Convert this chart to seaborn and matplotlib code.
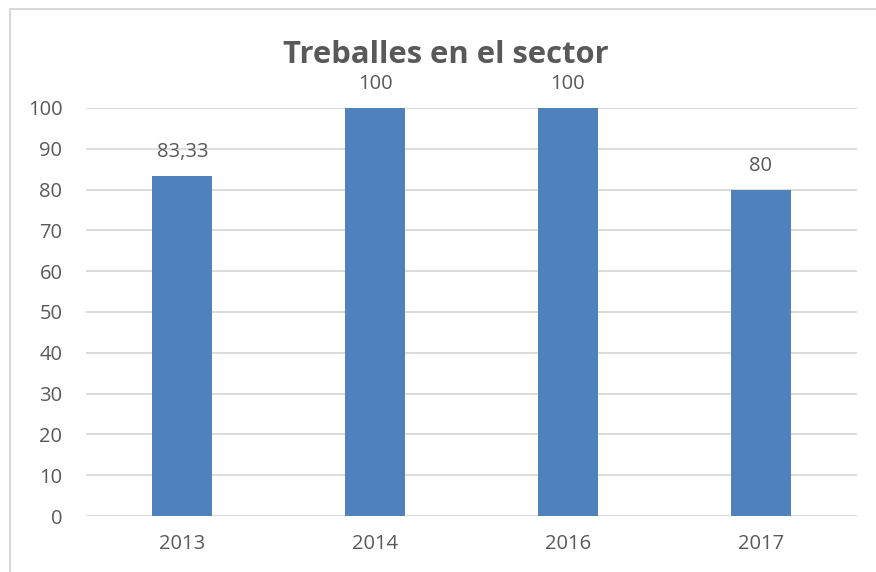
import seaborn as sns
import matplotlib.pyplot as plt
import matplotlib.lines as mlines
import pandas as pd

# Values
years = ["2013", "2014", "2016", "2017"]
values = [83.33, 100, 100, 80]
labels = ["83,33", "100", "100", "80"]

df = pd.DataFrame({"year": years, "value": values})

sns.set_theme(style="white")
plt.rcParams['font.family'] = ['Open Sans', 'DejaVu Sans']

text_col = "#595959"
grid_col = "#D9D9D9"
bar_col = "#4F81BD"

fig = plt.figure(figsize=(8.76, 5.72), dpi=100)
ax = fig.add_axes([86 / 876, 56 / 572, 771 / 876, 408 / 572])

sns.barplot(data=df, x="year", y="value", color=bar_col, width=0.31,
            saturation=1, linewidth=0, ax=ax, zorder=3)

ax.set_ylim(0, 100)
ax.set_yticks(range(0, 101, 10))
ax.yaxis.grid(True, color=grid_col, linewidth=1.3, zorder=0)
ax.set_axisbelow(True)
for s in ax.spines.values():
    s.set_visible(False)
ax.set_xlabel("")
ax.set_ylabel("")
ax.tick_params(axis="y", length=0, pad=17, labelsize=14.5, labelcolor=text_col)
ax.tick_params(axis="x", length=0, pad=13, labelsize=14.5, labelcolor=text_col)

# data labels
for i, (v, lab) in enumerate(zip(values, labels)):
    ax.annotate(lab, (i, v), xytext=(0, 10), textcoords="offset points",
                ha="center", va="bottom", fontsize=14.5, color=text_col,
                annotation_clip=False)

fig.text(446 / 876, 1 - 55 / 572, "Treballes en el sector", ha="center", va="center",
         fontsize=22.3, fontweight="bold", color=text_col)

# outer chart border (only top and left visible in the reference)
fig.add_artist(mlines.Line2D([10 / 876, 1], [1 - 9 / 572, 1 - 9 / 572],
                             transform=fig.transFigure, color=grid_col, lw=1.5))
fig.add_artist(mlines.Line2D([10 / 876, 10 / 876], [0, 1 - 9 / 572],
                             transform=fig.transFigure, color=grid_col, lw=1.5))

fig.savefig("out.png", dpi=100)
